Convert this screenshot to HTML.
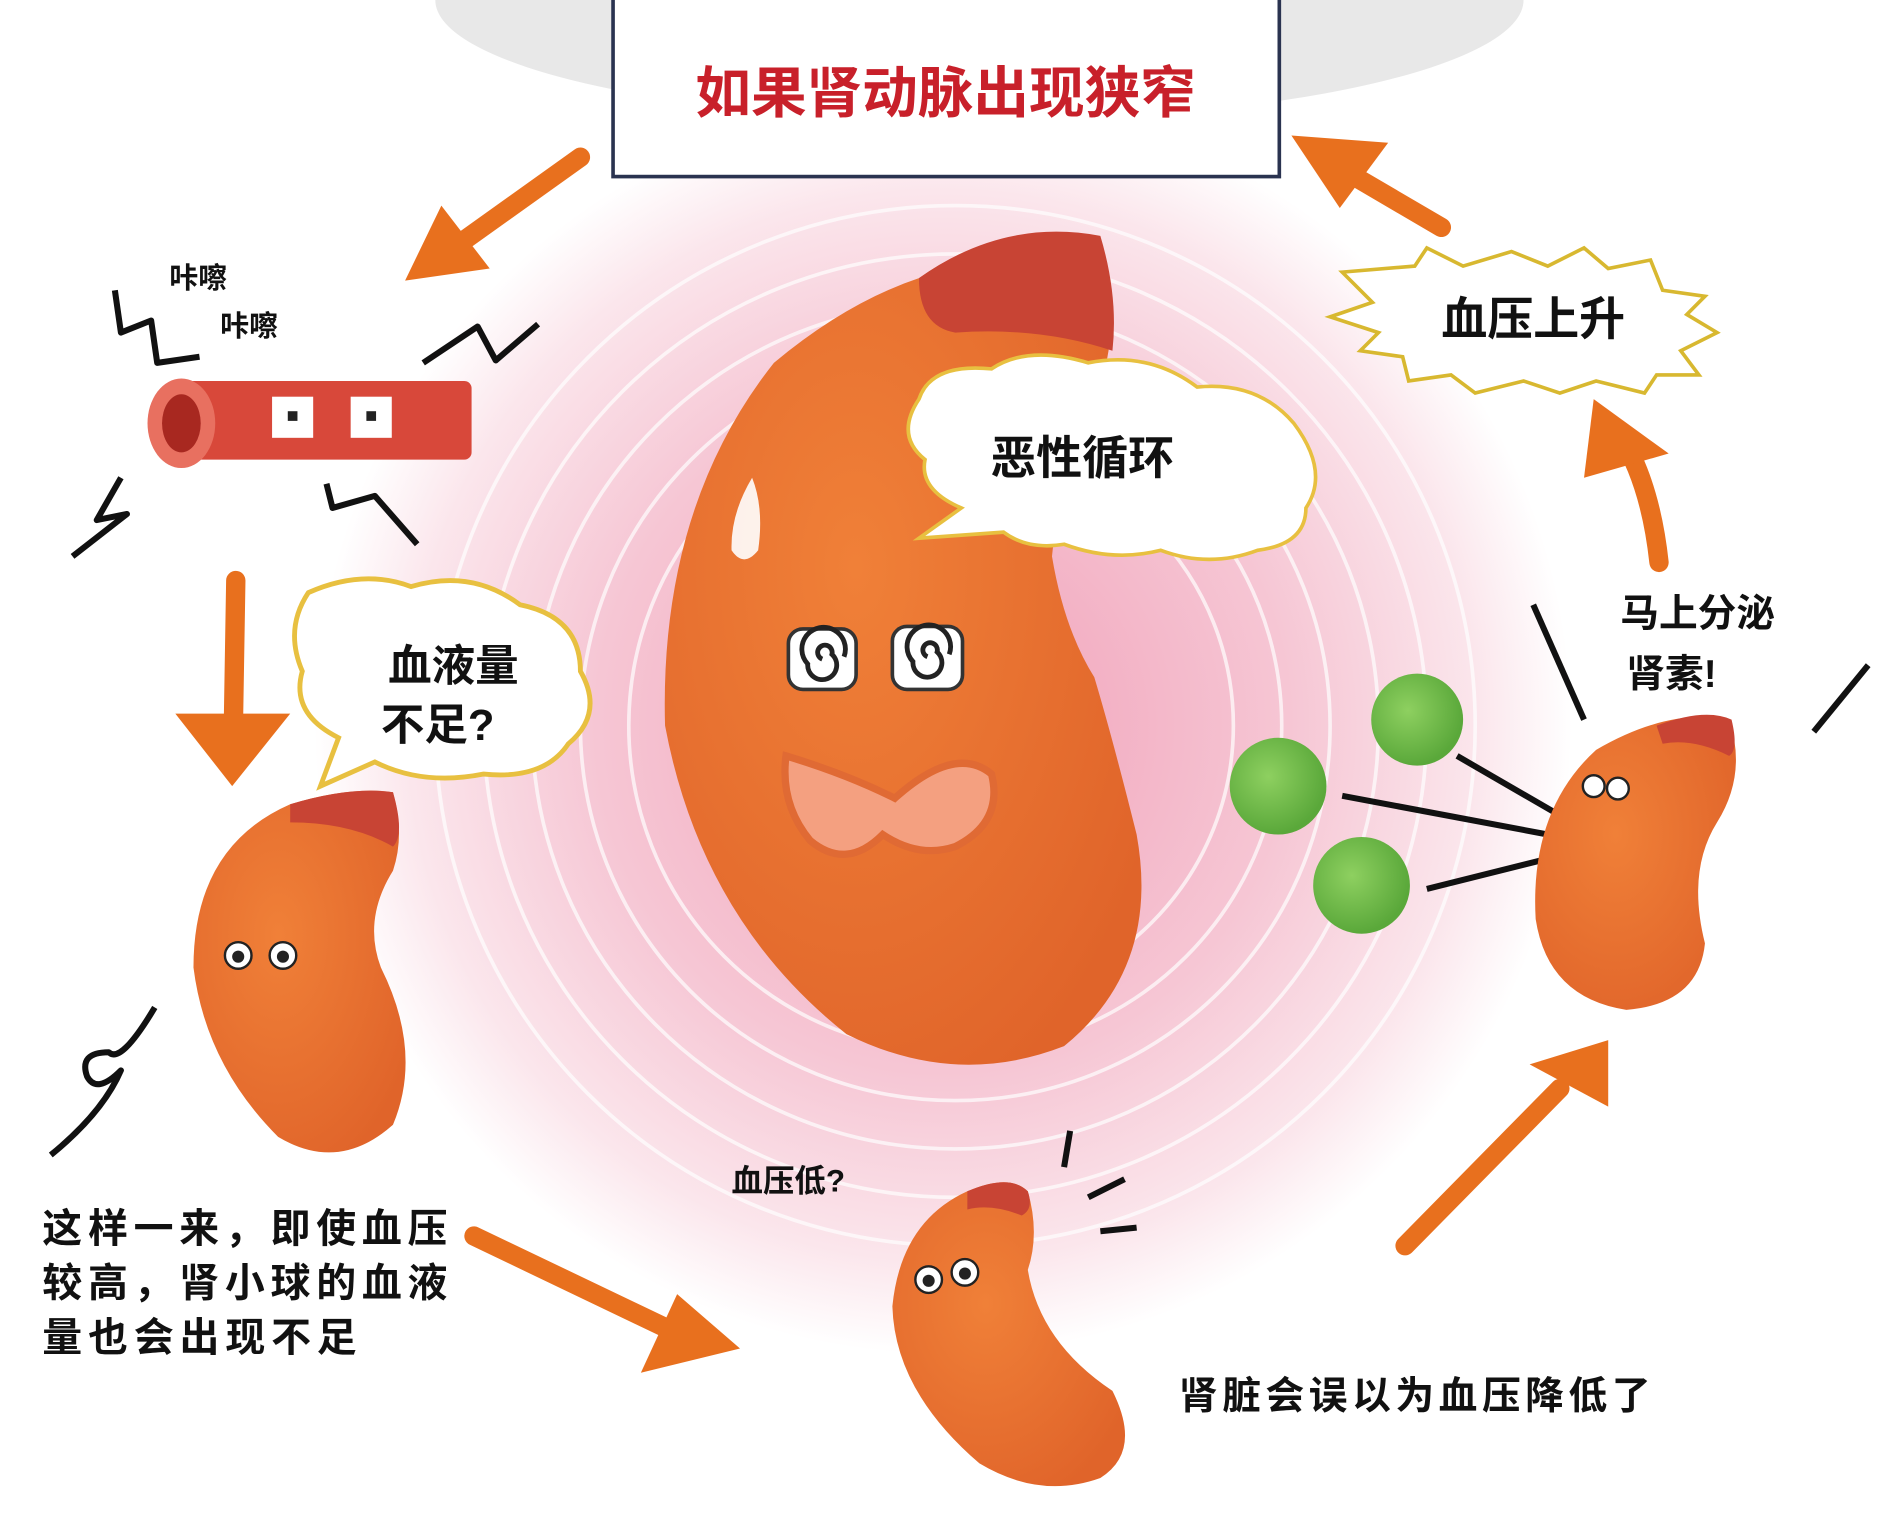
<!DOCTYPE html>
<html><head><meta charset="utf-8"><style>
html,body{margin:0;padding:0;background:#fff;}
svg{display:block;}
text{font-family:"Liberation Sans","Noto Sans CJK SC",sans-serif;font-weight:bold;}
</style></head><body>
<svg width="1896" height="1536" viewBox="0 0 1568 1270" preserveAspectRatio="none" xmlns="http://www.w3.org/2000/svg">
<defs>
<radialGradient id="pink" cx="780" cy="600" r="520" gradientUnits="userSpaceOnUse">
<stop offset="0" stop-color="#f0a0b8"/><stop offset="0.55" stop-color="#f6c6d4"/><stop offset="0.85" stop-color="#fbe6ec"/><stop offset="1" stop-color="#fff"/>
</radialGradient>
<radialGradient id="kid" cx="0.4" cy="0.4" r="0.7"><stop offset="0" stop-color="#f08038"/><stop offset="1" stop-color="#e0642a"/></radialGradient>
<radialGradient id="grn" cx="0.4" cy="0.4" r="0.6"><stop offset="0" stop-color="#8ed060"/><stop offset="1" stop-color="#5aa83a"/></radialGradient>
</defs>
<rect width="1568" height="1270" fill="#fff"/>
<ellipse cx="810" cy="0" rx="450" ry="100" fill="#e8e8e8"/>
<circle cx="780" cy="600" r="520" fill="url(#pink)"/>
<g fill="none" stroke="#fff" stroke-width="3" opacity="0.7">
<circle cx="790" cy="600" r="230"/><circle cx="790" cy="600" r="270"/><circle cx="790" cy="600" r="310"/><circle cx="790" cy="600" r="350"/><circle cx="790" cy="600" r="390"/><circle cx="790" cy="600" r="430"/>
</g>
<rect x="507" y="-4" width="551" height="150" fill="#fff" stroke="#2a3350" stroke-width="3"/>
<text x="782" y="93" font-size="46" fill="#c8202a" text-anchor="middle">如果肾动脉出现狭窄</text>
<g stroke="#e8701e" stroke-width="16" fill="none" stroke-linecap="round">
<path d="M480,130 L375,205"/><path d="M195,480 L193,600"/><path d="M392,1022 L555,1100"/>
<path d="M1162,1030 L1290,900"/><path d="M1372,465 Q1365,400 1340,360"/><path d="M1192,188 L1110,140"/>
</g>
<path d="M335,232 L365,170 L405,222 Z" fill="#e8701e"/>
<path d="M145,590 L240,590 L192,650 Z" fill="#e8701e"/>
<path d="M612,1115 L530,1135 L560,1070 Z" fill="#e8701e"/>
<path d="M1330,860 L1330,915 L1265,880 Z" fill="#e8701e"/>
<path d="M1318,330 L1380,375 L1310,395 Z" fill="#e8701e"/>
<path d="M1068,112 L1148,118 L1108,172 Z" fill="#e8701e"/>
<path d="M760,230 Q830,180 910,200 Q925,250 915,300 Q880,360 870,460 Q880,520 905,560 Q920,610 940,690 Q960,800 880,865 Q790,900 700,855 Q580,760 550,600 Q545,420 640,300 Q700,250 760,230 Z" fill="url(#kid)"/>
<path d="M760,230 Q830,180 910,195 Q925,245 920,290 Q860,270 790,275 Q760,270 760,230Z" fill="#c84434"/>
<path d="M622,395 Q632,420 627,455 Q615,470 605,455 Q604,425 622,395Z" fill="#fff" opacity="0.9"/>
<path d="M650,625 Q700,640 740,660 Q790,615 820,640 Q830,680 790,700 Q760,710 730,690 Q700,720 670,695 Q645,665 650,625Z" fill="#f4a080" stroke="#e06a34" stroke-width="6"/>
<g fill="#fff" stroke="#333" stroke-width="3"><rect x="652" y="520" width="56" height="50" rx="12"/><rect x="738" y="518" width="58" height="52" rx="12"/></g>
<g fill="none" stroke="#222" stroke-width="4"><path d="M680,545 a6,6 0 1,1 8,-4 a12,12 0 1,1 -20,8 a18,18 0 1,1 30,-6"/><path d="M767,543 a6,6 0 1,1 8,-4 a12,12 0 1,1 -20,8 a18,18 0 1,1 30,-6"/></g>
<path d="M760,330 Q770,300 820,305 Q850,285 900,300 Q950,290 990,320 Q1040,315 1070,350 Q1100,390 1080,420 Q1080,450 1040,455 Q1000,470 960,455 Q920,465 880,450 Q850,455 830,440 L760,445 L795,420 Q760,405 765,380 Q740,360 760,330Z" fill="#fff" stroke="#e8c040" stroke-width="3"/>
<text x="895" y="392" font-size="38" fill="#111" text-anchor="middle">恶性循环</text>
<path d="M1110,225 L1170,220 L1180,205 L1210,220 L1250,208 L1280,220 L1310,205 L1330,222 L1365,215 L1375,240 L1410,245 L1395,260 L1420,275 L1390,290 L1405,310 L1370,310 L1360,325 L1320,315 L1290,325 L1260,315 L1220,325 L1200,310 L1165,315 L1160,295 L1125,290 L1140,275 L1100,262 L1135,250 Z" fill="#fff" stroke="#d8b830" stroke-width="3"/>
<text x="1268" y="277" font-size="38" fill="#111" text-anchor="middle">血压上升</text>
<path d="M255,490 Q300,470 340,485 Q390,470 430,500 Q480,510 480,555 Q500,590 470,615 Q450,645 400,640 Q350,650 310,630 L265,650 L280,610 Q240,590 250,555 Q235,520 255,490Z" fill="#fff" stroke="#e8c040" stroke-width="4"/>
<text x="375" y="563" font-size="36" fill="#111" text-anchor="middle">血液量</text>
<text x="362" y="612" font-size="36" fill="#111" text-anchor="middle">不足?</text>
<rect x="145" y="315" width="245" height="65" rx="6" fill="#d8483a"/>
<ellipse cx="150" cy="350" rx="28" ry="37" fill="#e87060"/>
<ellipse cx="150" cy="350" rx="16" ry="24" fill="#a82820"/>
<rect x="225" y="328" width="34" height="34" fill="#fff"/><rect x="290" y="328" width="34" height="34" fill="#fff"/>
<rect x="238" y="340" width="8" height="8" fill="#222"/><rect x="303" y="340" width="8" height="8" fill="#222"/>
<g stroke="#111" stroke-width="5" fill="none" stroke-linejoin="round">
<path d="M95,240 L100,275 L125,265 L130,300 L165,295"/>
<path d="M350,300 L395,270 L410,298 L445,268"/>
<path d="M100,395 L80,430 L105,425 L60,460"/>
<path d="M270,400 L275,420 L310,410 L345,450"/>
<path d="M1268,500 L1310,595"/><path d="M1545,550 L1500,605"/>
<path d="M885,935 L880,965"/><path d="M930,975 L900,990"/><path d="M910,1018 L940,1015"/>
<path d="M1110,658 L1280,690"/><path d="M1205,625 L1300,680"/><path d="M1180,735 L1300,705"/>
<path d="M128,833 Q100,880 90,870 Q65,870 72,890 Q80,905 100,885 Q85,920 42,955"/>
</g>
<text x="140" y="238" font-size="24" fill="#111">咔嚓</text>
<text x="182" y="278" font-size="24" fill="#111">咔嚓</text>
<path d="M240,665 Q290,650 325,655 Q335,690 325,720 Q300,760 315,800 Q350,870 325,930 Q280,970 230,940 Q170,880 160,800 Q160,700 240,665Z" fill="url(#kid)"/>
<path d="M240,665 Q290,650 325,655 Q335,690 325,700 Q290,680 240,680Z" fill="#c84434"/>
<circle cx="197" cy="790" r="11" fill="#fff" stroke="#222" stroke-width="2"/><circle cx="234" cy="790" r="11" fill="#fff" stroke="#222" stroke-width="2"/>
<circle cx="197" cy="791" r="5" fill="#222"/><circle cx="234" cy="791" r="5" fill="#222"/>
<path d="M800,985 Q835,970 850,985 Q860,1020 850,1050 Q860,1110 920,1150 Q945,1200 910,1222 Q860,1240 810,1210 Q740,1150 738,1080 Q745,1010 800,985Z" fill="url(#kid)"/>
<path d="M800,985 Q835,970 850,985 Q855,1000 845,1005 Q820,995 800,1000Z" fill="#c84434"/>
<circle cx="768" cy="1058" r="11" fill="#fff" stroke="#222" stroke-width="2"/><circle cx="798" cy="1052" r="11" fill="#fff" stroke="#222" stroke-width="2"/>
<circle cx="768" cy="1059" r="5" fill="#222"/><circle cx="798" cy="1053" r="5" fill="#222"/>
<path d="M1320,620 Q1380,585 1430,595 Q1445,640 1420,680 Q1395,720 1410,780 Q1405,830 1345,835 Q1280,825 1270,760 Q1265,670 1320,620Z" fill="url(#kid)"/>
<path d="M1370,600 Q1410,585 1432,595 Q1438,620 1430,625 Q1400,610 1375,615Z" fill="#c84434"/>
<circle cx="1318" cy="650" r="9" fill="#fff" stroke="#222" stroke-width="2"/><circle cx="1338" cy="652" r="9" fill="#fff" stroke="#222" stroke-width="2"/>
<circle cx="1172" cy="595" r="38" fill="url(#grn)"/><circle cx="1057" cy="650" r="40" fill="url(#grn)"/><circle cx="1126" cy="732" r="40" fill="url(#grn)"/>
<text x="35" y="1027" font-size="33" fill="#111" textLength="335">这样一来，即使血压</text>
<text x="35" y="1072" font-size="33" fill="#111" textLength="335">较高，肾小球的血液</text>
<text x="35" y="1117" font-size="33" fill="#111" textLength="260">量也会出现不足</text>
<text x="605" y="985" font-size="26" fill="#111">血压低?</text>
<text x="975" y="1165" font-size="32" fill="#111" textLength="390">肾脏会误以为血压降低了</text>
<text x="1340" y="518" font-size="32" fill="#111">马上分泌</text>
<text x="1345" y="568" font-size="32" fill="#111">肾素!</text>
</svg>
</body></html>
